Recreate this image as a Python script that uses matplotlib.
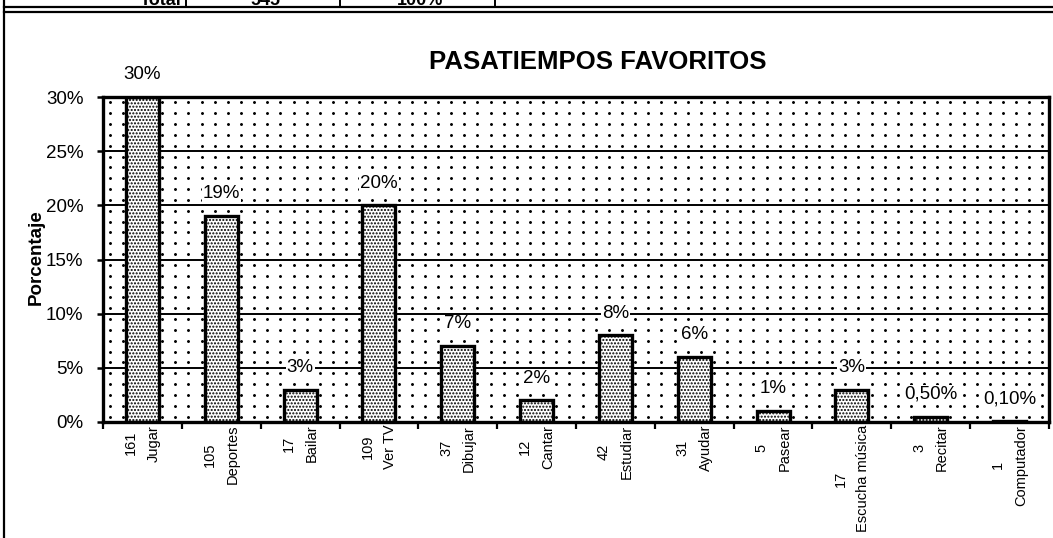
import numpy as np
import matplotlib
matplotlib.use("Agg")
import matplotlib.pyplot as plt
from matplotlib.lines import Line2D

plt.rcParams['font.family'] = ['Liberation Sans', 'DejaVu Sans']
plt.rcParams['hatch.linewidth'] = 1.0

# pasatiempos, cantidad de alumnos y porcentaje
categorias = ["Jugar", "Deportes", "Bailar", "Ver TV", "Dibujar", "Cantar",
              "Estudiar", "Ayudar", "Pasear", "Escucha música", "Recitar",
              "Computador"]
cantidades = [161, 105, 17, 109, 37, 12, 42, 31, 5, 17, 3, 1]
porcentajes = [30, 19, 3, 20, 7, 2, 8, 6, 1, 3, 0.5, 0.1]
y_ticks = [0, 5, 10, 15, 20, 25, 30]

total_texto = ["Total", "545", "100%"]


def etiqueta(v):
    if v < 1:
        return f"{v:.2f}%".replace(".", ",")
    return f"{v:.0f}%"


W, H = 1053, 538
fig = plt.figure(figsize=(W / 100, H / 100), dpi=100)
fig.patch.set_facecolor("white")


def fx(px):
    return px / W


def fy(py):
    return 1 - py / H


# fila de la tabla de arriba y marco del grafico
for y in [7, 12]:
    fig.add_artist(Line2D([fx(4), fx(1053)], [fy(y), fy(y)], color="black", lw=1.6))
for x in [186, 340, 495]:
    fig.add_artist(Line2D([fx(x), fx(x)], [fy(0), fy(7)], color="black", lw=1.4))
fig.add_artist(Line2D([fx(4), fx(4)], [fy(0), fy(538)], color="black", lw=1.6))
fig.text(fx(182), fy(5), total_texto[0], ha="right", va="baseline", fontsize=13, weight="bold")
fig.text(fx(265), fy(5), total_texto[1], ha="center", va="baseline", fontsize=13, weight="bold")
fig.text(fx(420), fy(5), total_texto[2], ha="center", va="baseline", fontsize=13, weight="bold")

ax = fig.add_axes([fx(103), fy(422), fx(1049) - fx(103), fy(97) - fy(422)])
n = len(categorias)
x = np.arange(n)

# fondo punteado
px = np.arange(-0.5 + 1 / 12, n - 0.5, 1 / 6)
py = np.arange(0.5, 30, 1.0)
gx, gy = np.meshgrid(px, py)
ax.plot(gx.ravel(), gy.ravel(), ls="none", marker="o", ms=1.1, color="black", zorder=0)

for t in y_ticks[1:-1]:
    ax.axhline(t, color="black", lw=1.4, zorder=1)

ax.bar(x, porcentajes, width=0.42, color="white", edgecolor="black",
       linewidth=2.4, hatch=".....", zorder=3)

for xi, v in zip(x, porcentajes):
    ax.annotate(etiqueta(v), (xi, v), xytext=(0, 16), textcoords="offset points",
                ha="center", va="center", fontsize=13.5, annotation_clip=False,
                bbox=dict(boxstyle="square,pad=0.05", fc="white", ec="none"),
                zorder=5)

ax.set_xlim(-0.5, n - 0.5)
ax.set_ylim(0, 30)
ax.set_yticks(y_ticks)
ax.set_yticklabels([f"{t}%" for t in y_ticks], fontsize=13.5)
ax.tick_params(axis="y", direction="out", length=4, width=1.8, pad=10)

ax.set_xticks(np.arange(-0.5, n, 1.0))
ax.set_xticklabels([])
ax.tick_params(axis="x", which="major", direction="out", length=5, width=1.6)
ax.set_xticks(x, minor=True)
ax.set_xticklabels([f"{c}\n{nombre}" for c, nombre in zip(cantidades, categorias)],
                   minor=True, rotation=90, fontsize=10.5, ha="center", va="top",
                   multialignment="center", linespacing=1.8)
ax.tick_params(axis="x", which="minor", length=0, pad=2)

for s in ax.spines.values():
    s.set_linewidth(2.4)
    s.set_zorder(6)

fig.text(fx(598), fy(62), "PASATIEMPOS FAVORITOS", ha="center", va="center",
         fontsize=18.5, weight="bold")
fig.text(fx(36), fy(257), "Porcentaje", ha="center", va="center", rotation=90,
         fontsize=13.5, weight="bold")

fig.savefig("out.png", dpi=100)
